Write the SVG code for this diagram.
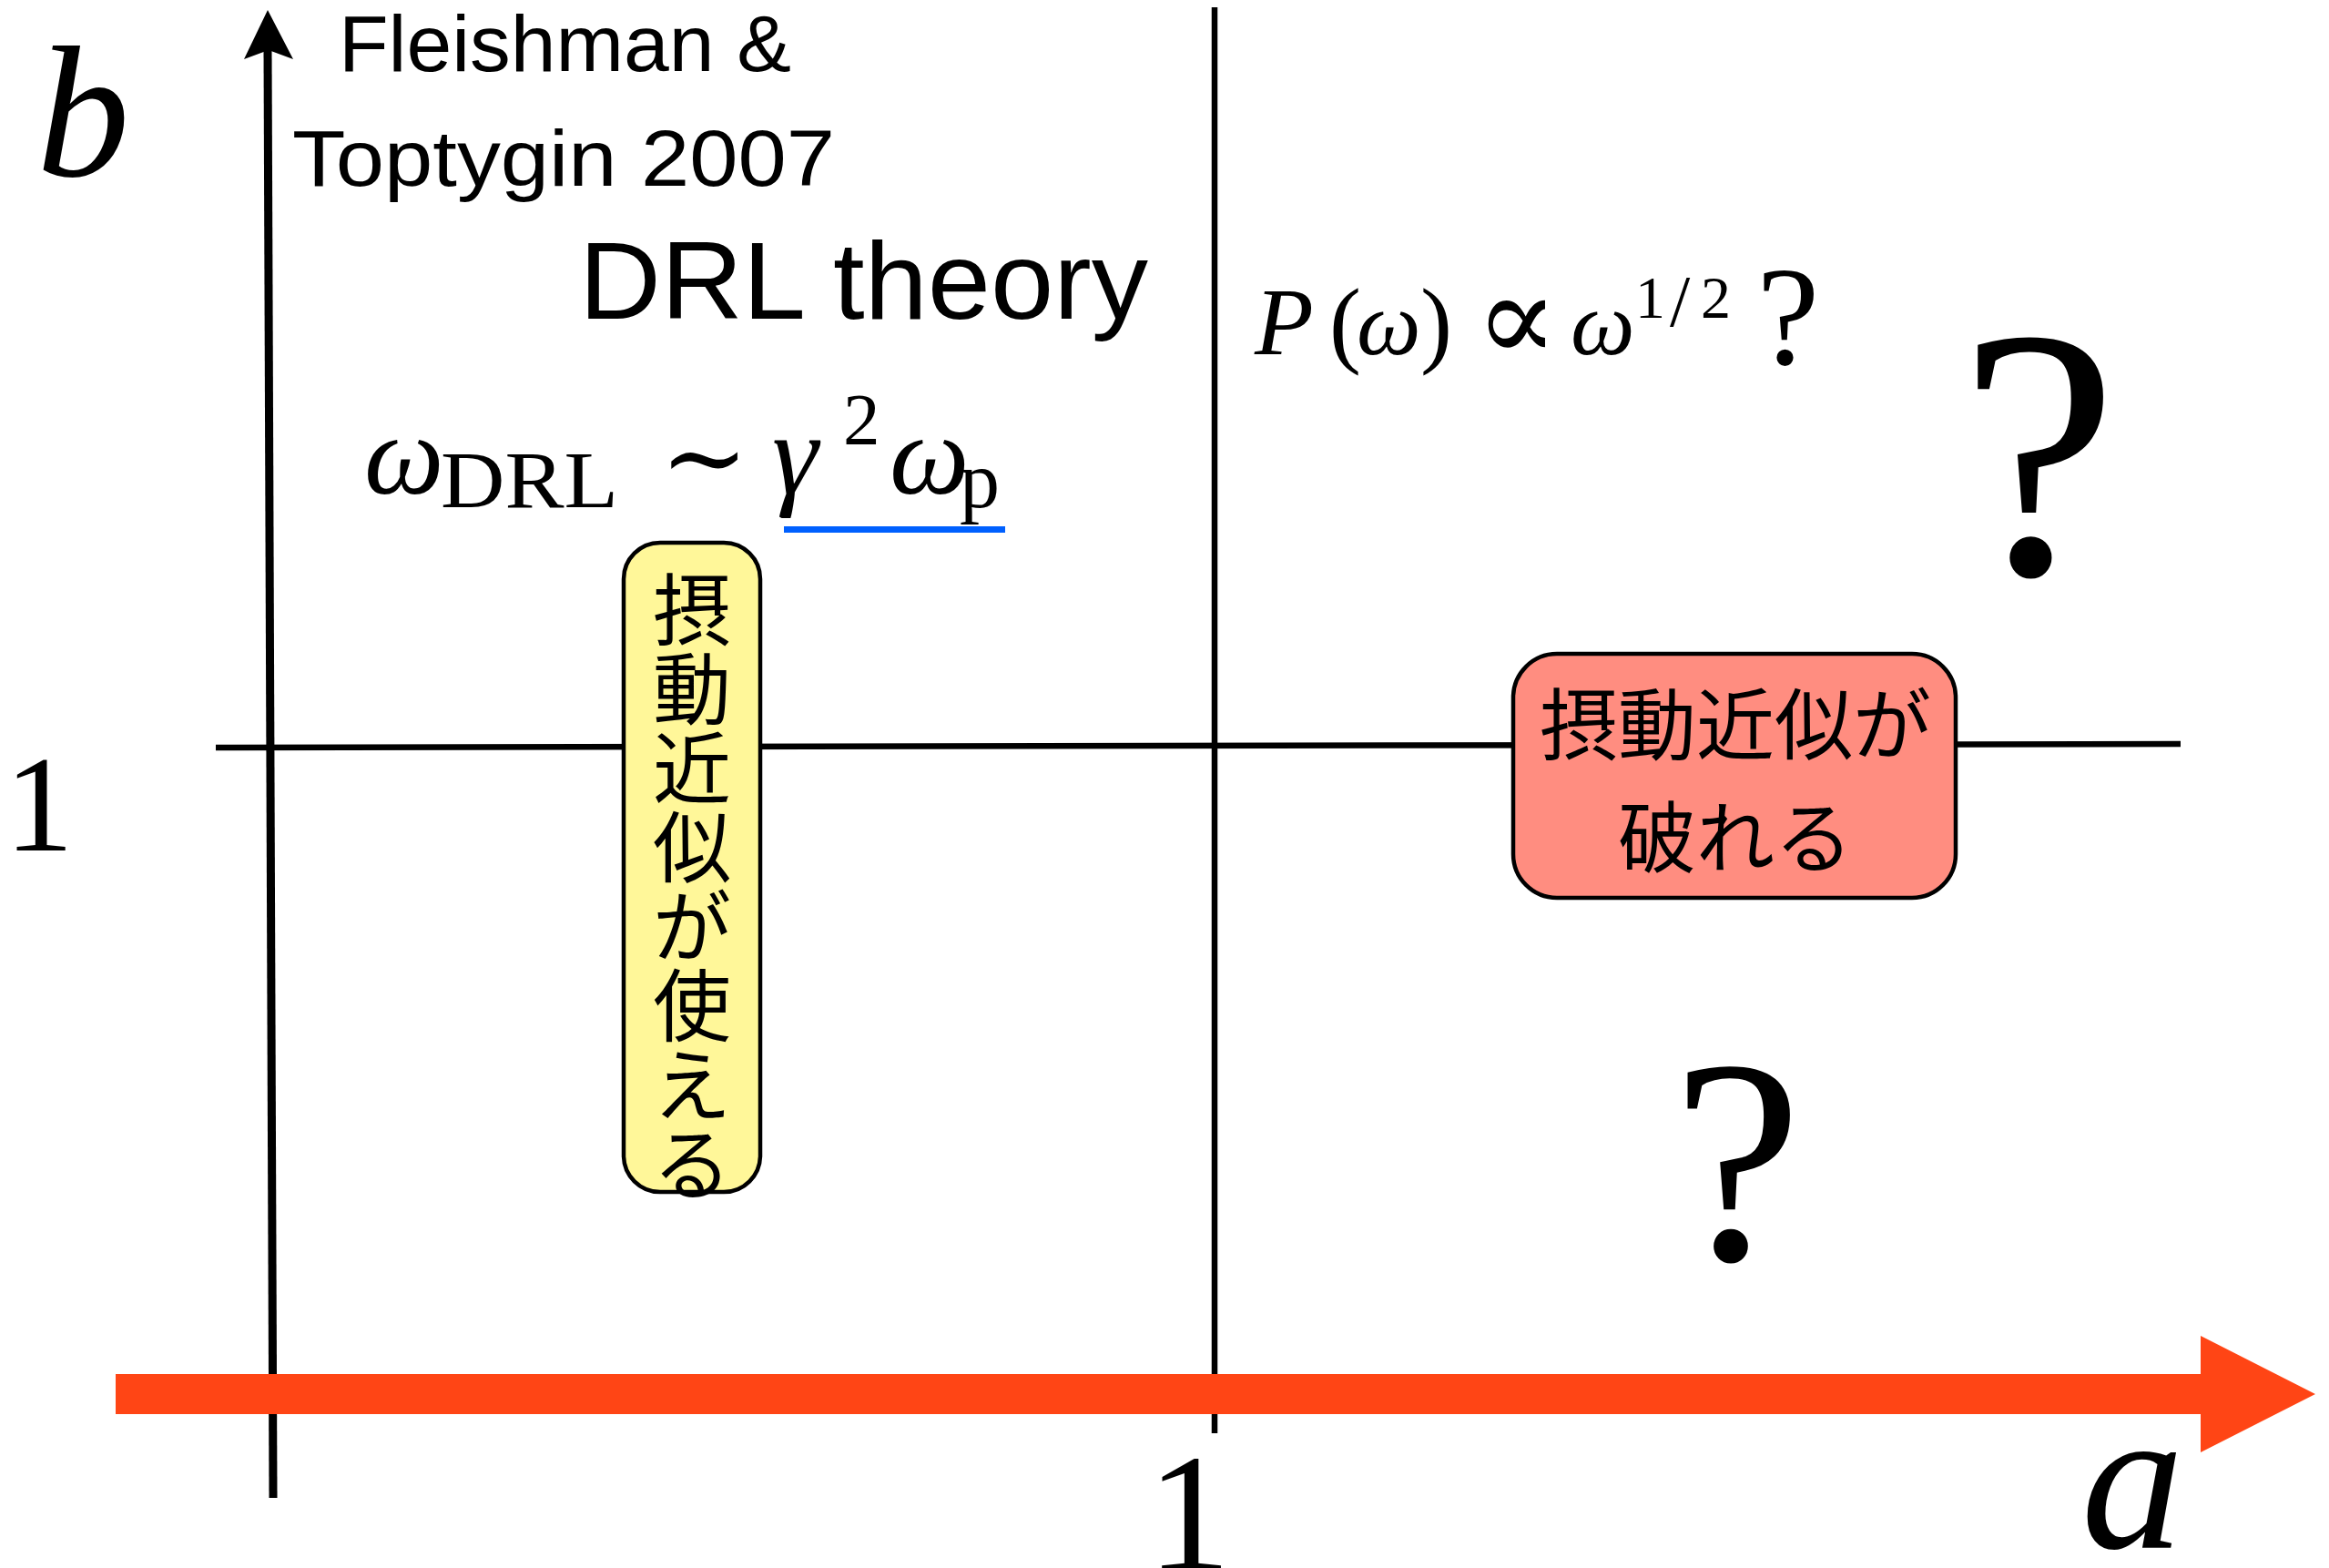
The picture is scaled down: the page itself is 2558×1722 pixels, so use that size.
<svg xmlns="http://www.w3.org/2000/svg" width="2558" height="1722" viewBox="0 0 2558 1722">
<style>
.sans{font-family:"Liberation Sans",Arial,sans-serif;fill:#000}
.serif{font-family:"Liberation Serif","DejaVu Serif",serif;fill:#000}
.it{font-style:italic}
.sym{font-family:"DejaVu Serif","Liberation Serif",serif;fill:#000}
.jp{font-family:"Noto Sans CJK JP","Noto Sans CJK SC",sans-serif;fill:#000}
.line{stroke:#000;fill:none}
</style>
<rect width="2558" height="1722" fill="#fff"/>
<g id="connectors">
  <line class="line" x1="300" y1="1645" x2="294" y2="55" stroke-width="9"/>
  <polygon points="294,11 322,65 295,55 268,65" fill="#000"/>
  <line class="line" x1="1334" y1="8" x2="1334" y2="1574" stroke-width="6.5"/>
  <line class="line" x1="237" y1="821" x2="2395" y2="817" stroke-width="6.5"/>
  <polygon id="a-axis" points="127,1509 2417,1509 2417,1467 2543,1531 2417,1595 2417,1553 127,1553" fill="#FF4515"/>
</g>
<g id="labels">
  <text class="serif it" x="40" y="193" font-size="205">b</text>
  <text class="serif" x="43" y="934" font-size="151" text-anchor="middle">1</text>
  <text class="serif" x="1306" y="1724" font-size="184" text-anchor="middle">1</text>
  <text class="serif it" x="2286" y="1700" font-size="225">a</text>
  <text class="sans" x="372" y="78" font-size="88" textLength="497" lengthAdjust="spacingAndGlyphs">Fleishman &amp;</text>
  <text class="sans" x="321" y="204" font-size="88" textLength="596" lengthAdjust="spacingAndGlyphs">Toptygin 2007</text>
  <text class="sans" x="636" y="350" font-size="121" textLength="625" lengthAdjust="spacingAndGlyphs">DRL theory</text>
</g>
<g id="formula-drl">
  <text class="serif it" x="400" y="542" font-size="124">ω</text>
  <text class="serif" x="484" y="557" font-size="88" textLength="195" lengthAdjust="spacingAndGlyphs">DRL</text>
  <text class="sym" x="725" y="542" font-size="116">∼</text>
  <text class="serif it" x="848" y="542" font-size="128">γ</text>
  <text class="serif" x="926" y="488" font-size="81">2</text>
  <text class="serif it" x="977" y="542" font-size="124">ω</text>
  <text class="serif" x="1054" y="557" font-size="88">p</text>
  <rect x="861" y="578" width="243" height="7" fill="#0060FF"/>
</g>
<g id="formula-p">
  <text class="serif it" x="1378" y="389" font-size="106">P</text>
  <text class="serif" x="1460" y="390" font-size="105">(</text>
  <text class="serif it" x="1490" y="389" font-size="100">ω</text>
  <text class="serif" x="1560" y="390" font-size="105">)</text>
  <text class="sym" x="1620" y="396" font-size="135">∝</text>
  <text class="serif it" x="1725" y="389" font-size="100">ω</text>
  <text class="serif" y="349" font-size="66"><tspan x="1796">1</tspan><tspan x="1834" y="358" font-size="80">/</tspan><tspan x="1868" y="349">2</tspan></text>
  <text class="serif" x="1964" y="400" font-size="155" text-anchor="middle">?</text>
</g>
<g id="question-upper">
  <text class="serif" x="2239" y="630" font-size="392" text-anchor="middle">?</text>
</g>
<g id="question-lower">
  <text class="serif" x="1908" y="1383" font-size="320" text-anchor="middle">?</text>
</g>
<g id="node-perturbation-valid">
  <rect x="685" y="596" width="150" height="713" rx="40" ry="40" fill="#FFF799" stroke="#000" stroke-width="4.5"/>
  <text class="jp" font-size="86" text-anchor="middle"><tspan x="760" y="702">摂</tspan><tspan x="760" y="789">動</tspan><tspan x="760" y="876">近</tspan><tspan x="760" y="963">似</tspan><tspan x="760" y="1050">が</tspan><tspan x="760" y="1137">使</tspan><tspan x="760" y="1224">え</tspan><tspan x="760" y="1311">る</tspan></text>
</g>
<g id="node-perturbation-breaks">
  <rect x="1662" y="718" width="486" height="268" rx="48" ry="48" fill="#FF8D80" stroke="#000" stroke-width="4.5"/>
  <text class="jp" x="1906" y="828" font-size="86" text-anchor="middle">摂動近似が</text>
  <text class="jp" x="1906" y="952" font-size="86" text-anchor="middle">破れる</text>
</g>
</svg>
